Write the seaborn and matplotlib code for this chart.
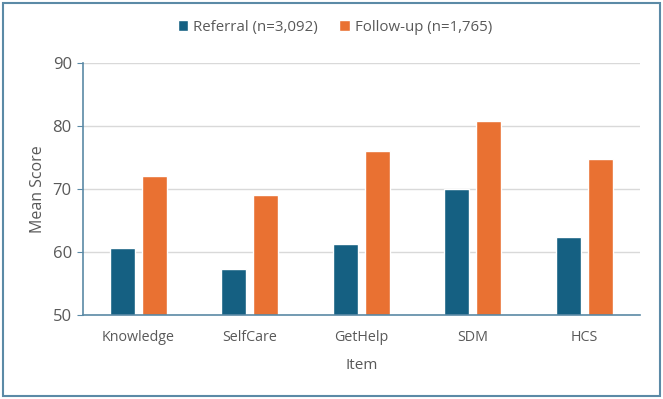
import pandas as pd
import matplotlib.pyplot as plt
import seaborn as sns
from matplotlib.patches import Rectangle

# data
items = ["Knowledge", "SelfCare", "GetHelp", "SDM", "HCS"]
referral = [60.7, 57.3, 61.3, 70.0, 62.4]
follow_up = [72.1, 69.1, 76.1, 80.8, 74.7]
series_names = ["Referral (n=3,092)", "Follow-up (n=1,765)"]
colors = ["#156082", "#E97132"]

df = pd.DataFrame({
    "Item": items * 2,
    "Score": referral + follow_up,
    "Group": [series_names[0]] * len(items) + [series_names[1]] * len(items),
})

sns.set_style("white")
plt.rcParams['font.family'] = ['Open Sans', 'DejaVu Sans']
text_col = "#595959"
spine_col = "#5b8aa6"

fig = plt.figure(figsize=(6.63, 3.99), dpi=100)
ax = fig.add_axes([0.125, 0.2105, 0.84, 0.6315])

sns.barplot(data=df, x="Item", y="Score", hue="Group", palette=colors,
            width=0.575, gap=0.22, ax=ax, saturation=1, legend=True)

ax.set_ylim(50, 90)
ax.set_yticks([50, 60, 70, 80, 90])
ax.yaxis.grid(True, color="#d9d9d9", linewidth=1)
ax.set_axisbelow(True)
for s in ["top", "right"]:
    ax.spines[s].set_visible(False)
for s in ["left", "bottom"]:
    ax.spines[s].set_color(spine_col)
    ax.spines[s].set_linewidth(1.2)
ax.tick_params(axis="y", length=4, color=spine_col, labelsize=12, labelcolor=text_col,
               left=True, pad=4)
ax.tick_params(axis="x", length=0, labelsize=10.3, labelcolor=text_col, pad=11)
ax.set_xlabel("Item", fontsize=11, color=text_col, labelpad=9)
ax.set_ylabel("Mean Score", fontsize=11.5, color=text_col, labelpad=5)

ax.get_legend().remove()
handles, labels = ax.get_legend_handles_labels()
leg = fig.legend(handles, labels, loc="center", bbox_to_anchor=(0.505, 0.932), ncol=2,
                 frameon=False, fontsize=10.8, handlelength=0.7, handleheight=0.8,
                 columnspacing=1.4, handletextpad=0.35)
for t in leg.get_texts():
    t.set_color(text_col)

# outer frame around the whole chart
fig.patches.append(Rectangle((0.005, 0.008), 0.99, 0.985, transform=fig.transFigure,
                             fill=False, edgecolor=spine_col, linewidth=1.5))

fig.savefig("out.png", dpi=100)
